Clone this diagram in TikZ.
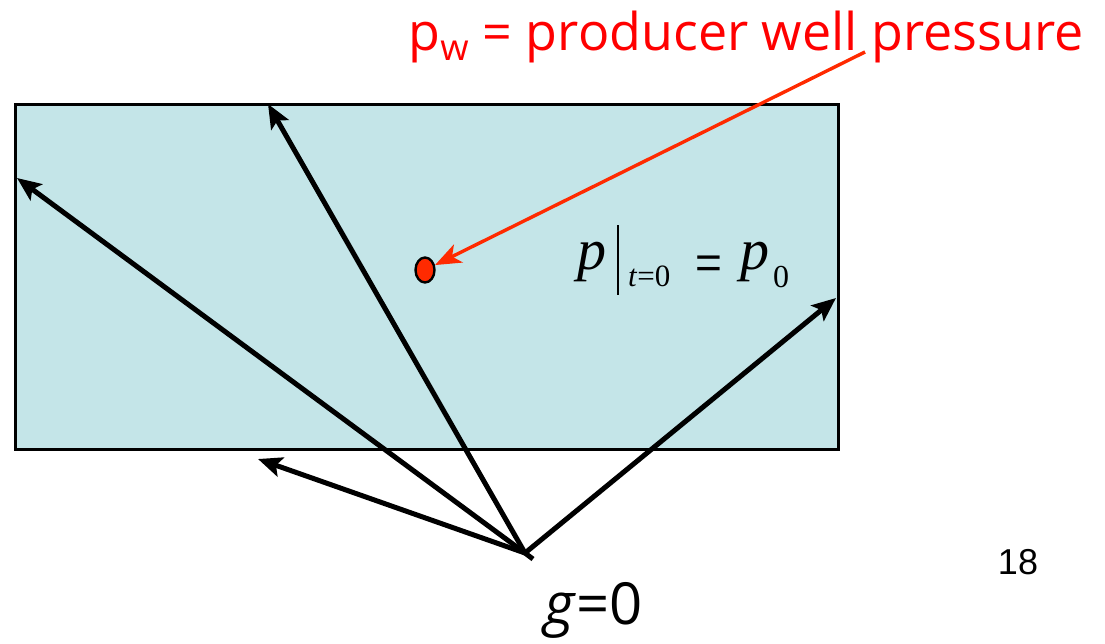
\documentclass[tikz,border=0pt]{standalone}
\usepackage{fontspec}
\setmainfont{Liberation Serif}
\newfontfamily\comicfont{Open Sans}
\newfontfamily\arialfont{Liberation Sans}
\usetikzlibrary{arrows.meta,shapes.geometric}
\definecolor{resfill}{HTML}{C4E5E8}
\definecolor{redtext}{HTML}{FF0000}
\definecolor{redarrow}{HTML}{FF2A00}
\tikzset{
  ray/.style={line width=5pt, -{Stealth[length=24pt,width=20pt,inset=5pt]}},
  ptr/.style={draw=redarrow, line width=3.4pt, -{Stealth[length=26pt,width=20pt,inset=7pt]}},
  reservoir/.style={draw=black, line width=3pt, fill=resfill},
  wellnode/.style={draw=black, line width=2.4pt, fill=redarrow, ellipse, minimum width=19pt, minimum height=25pt, inner sep=0pt},
  mathpart/.style={anchor=base west, inner sep=0pt},
}
\begin{document}
\begin{tikzpicture}[x=1pt,y=-1pt]
\useasboundingbox (0,0) rectangle (1105,643);
\draw[reservoir] (15,104) rectangle (838,449);
\coordinate (o) at (525,553);
\coordinate (tick) at (533,559);
\coordinate (t1) at (268,104);
\coordinate (t2) at (17,178);
\coordinate (t3) at (258,459);
\coordinate (t4) at (836,298);
\draw[line width=5pt] (o) -- (tick);
\foreach \t in {t1,t2,t3,t4} \draw[ray] (o) -- (\t);
\node[wellnode] (well) at (425,270) {};
\coordinate (ptrstart) at (865,52);
\draw[ptr] (ptrstart) -- (well);
\node[anchor=base, text=redtext, font=\comicfont\fontsize{52}{56}\selectfont] (title) at (746,50) {p\textsubscript{w} = producer well pressure};
% p|_{t=0} = p_0
\node[mathpart, font=\itshape\fontsize{58}{60}\selectfont] (pa) at (577,269) {p};
\coordinate (bartop) at (618,225);
\coordinate (barbot) at (618,295);
\draw[line width=2.2pt] (bartop) -- (barbot);
\node[mathpart, font=\fontsize{31}{34}\selectfont] (sub) at (628,286) {\textit{t}=0};
\node[mathpart, font=\arialfont\fontsize{46}{50}\selectfont] (eq) at (695,278) {=};
\node[mathpart, font=\itshape\fontsize{58}{60}\selectfont] (pb) at (740,269) {p};
\node[mathpart, font=\fontsize{32}{36}\selectfont] (zero) at (773,287) {0};
\node[anchor=base, font=\comicfont\fontsize{58}{62}\selectfont] (g) at (594,624) {\textit{g}=0};
\node[anchor=base, font=\arialfont\fontsize{36}{40}\selectfont] (num) at (1018,574) {18};
\end{tikzpicture}
\end{document}
